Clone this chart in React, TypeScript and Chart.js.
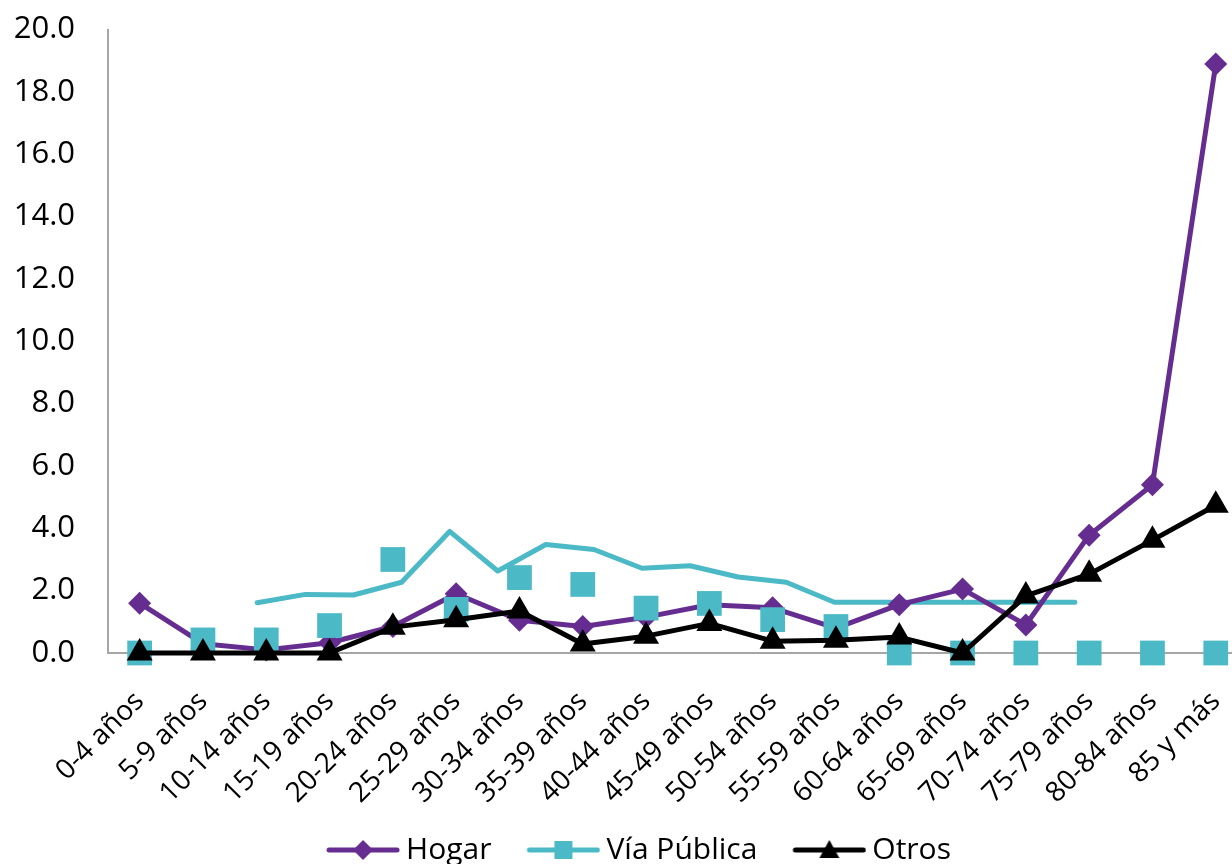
import React, { useEffect, useRef } from "react";
import { Chart, registerables } from "chart.js";

Chart.register(...registerables);

const categories = [
  "0-4 años", "5-9 años", "10-14 años", "15-19 años", "20-24 años", "25-29 años",
  "30-34 años", "35-39 años", "40-44 años", "45-49 años", "50-54 años", "55-59 años",
  "60-64 años", "65-69 años", "70-74 años", "75-79 años", "80-84 años", "85 y más",
];
const hogar = [1.6, 0.3, 0.1, 0.33, 0.85, 1.9, 1.05, 0.85, 1.15, 1.55, 1.45, 0.8, 1.55, 2.05, 0.9, 3.78, 5.4, 18.9];
const viaPublica = [0, 0.42, 0.42, 0.88, 3.0, 1.4, 2.42, 2.2, 1.44, 1.59, 1.07, 0.85, 0, 0, 0, 0, 0, 0];
const viaPublicaLinea = [1.61, 1.88, 1.86, 2.27, 3.9, 2.63, 3.48, 3.32, 2.72, 2.8, 2.44, 2.27, 1.63, 1.63, 1.63, 1.63, 1.63, 1.63];
const otros = [0, 0, 0, 0, 0.83, 1.07, 1.35, 0.29, 0.54, 0.95, 0.38, 0.41, 0.51, 0, 1.83, 2.53, 3.62, 4.74];
const yTicks = [0, 2, 4, 6, 8, 10, 12, 14, 16, 18, 20];
const legendNames = ["Hogar", "Vía Pública", "Otros"];

const PURPLE = "#662D91";
const CYAN = "#4BB9C6";
const BLACK = "#000000";
const AXIS = "#A6A6A6";

const LEGEND_BLANK = 14;

function legendImage(color: string, marker: "diamond" | "square" | "triangle") {
  const c = document.createElement("canvas");
  c.width = 74 + LEGEND_BLANK;
  c.height = 26;
  const ctx = c.getContext("2d")!;
  ctx.translate(LEGEND_BLANK, 0);
  ctx.strokeStyle = color;
  ctx.fillStyle = color;
  ctx.lineWidth = 5;
  ctx.lineCap = "round";
  ctx.beginPath();
  ctx.moveTo(3, 13);
  ctx.lineTo(71, 13);
  ctx.stroke();
  ctx.beginPath();
  if (marker === "diamond") {
    ctx.moveTo(37, 3);
    ctx.lineTo(47, 13);
    ctx.lineTo(37, 23);
    ctx.lineTo(27, 13);
  } else if (marker === "square") {
    ctx.rect(28, 4, 18, 18);
  } else {
    ctx.moveTo(37, 3);
    ctx.lineTo(47, 21);
    ctx.lineTo(27, 21);
  }
  ctx.closePath();
  ctx.fill();
  return c;
}

export default function App() {
  const ref = useRef<HTMLCanvasElement | null>(null);

  useEffect(() => {
    if (!ref.current) return;
    Chart.defaults.font.family = "'Open Sans', sans-serif";
    Chart.defaults.color = "#000";

    const imgs = [
      legendImage(PURPLE, "diamond"),
      legendImage(CYAN, "square"),
      legendImage(BLACK, "triangle"),
    ];
    const colors = [PURPLE, CYAN, BLACK];

    const trendStep = 48;
    const plotLeft = 108;
    const plotWidth = 63.18 * 18;
    const firstTrend = 257;
    const x2min = -(firstTrend - plotLeft) / trendStep;
    const x2max = x2min + plotWidth / trendStep;

    const chart = new Chart(ref.current, {
      type: "line",
      data: {
        labels: categories,
        datasets: [
          {
            label: legendNames[2],
            data: otros,
            borderColor: BLACK,
            backgroundColor: BLACK,
            borderWidth: 5,
            pointStyle: "triangle",
            pointRadius: 15,
            pointBorderWidth: 0,
            pointBackgroundColor: BLACK,
            borderJoinStyle: "round",
            order: 0,
            clip: false as any,
            xAxisID: "x",
          },
          {
            label: legendNames[1],
            data: viaPublica,
            showLine: false,
            borderColor: CYAN,
            backgroundColor: CYAN,
            pointStyle: "rect",
            pointRadius: 17.5,
            pointBorderWidth: 0,
            pointBackgroundColor: CYAN,
            order: 1,
            clip: false as any,
            xAxisID: "x",
          },
          {
            label: legendNames[0],
            data: hogar,
            borderColor: PURPLE,
            backgroundColor: PURPLE,
            borderWidth: 5,
            pointStyle: "rectRot",
            pointRadius: 11.5,
            pointBorderWidth: 0,
            pointBackgroundColor: PURPLE,
            borderJoinStyle: "round",
            order: 2,
            clip: false as any,
            xAxisID: "x",
          },
          {
            label: "trend",
            data: viaPublicaLinea.map((v, i) => ({ x: i, y: v })),
            borderColor: CYAN,
            backgroundColor: CYAN,
            borderWidth: 5,
            pointRadius: 0,
            borderJoinStyle: "round",
            borderCapStyle: "round",
            order: 3,
            clip: false as any,
            xAxisID: "x2",
          } as any,
        ],
      },
      options: {
        animation: false,
        responsive: true,
        maintainAspectRatio: false,
        layout: { padding: { top: 6, left: 0, right: 0, bottom: 0 } },
        plugins: {
          tooltip: { enabled: false },
          legend: {
            position: "bottom",
            labels: {
              usePointStyle: true,
              pointStyleWidth: 70,
              boxHeight: 26,
              padding: 30,
              color: "#000",
              font: { size: 30, family: "'Open Sans', sans-serif" },
              generateLabels: () =>
                legendNames.map((name, i) => ({
                  text: name,
                  pointStyle: imgs[i] as any,
                  fillStyle: colors[i],
                  strokeStyle: colors[i],
                  lineWidth: 0,
                  hidden: false,
                  datasetIndex: 2 - i,
                })),
            },
          },
        },
        scales: {
          x: {
            type: "category",
            offset: true,
            grid: { display: false, drawTicks: false },
            border: { display: true, color: AXIS, width: 2 },
            ticks: {
              autoSkip: false,
              maxRotation: 45,
              minRotation: 45,
              padding: 32,
              font: { size: 28 },
              color: "#000",
            },
            afterFit: (scale: any) => {
              scale.height = 152;
            },
          },
          x2: {
            type: "linear",
            display: false,
            min: x2min,
            max: x2max,
          },
          y: {
            min: 0,
            max: 20,
            grid: { display: false, drawTicks: false },
            border: { display: true, color: AXIS, width: 2 },
            afterBuildTicks: (scale: any) => {
              scale.ticks = yTicks.map((v) => ({ value: v }));
            },
            ticks: {
              padding: 33,
              font: { size: 31 },
              color: "#000",
              callback: (v: any) => Number(v).toFixed(1),
            },
            afterFit: (scale: any) => {
              scale.width = plotLeft;
            },
          },
        },
      },
    });
    return () => chart.destroy();
  }, []);

  return (
    <div
      style={{
        position: "absolute",
        left: 0,
        top: 0,
        width: 1232,
        height: 864,
        overflow: "hidden",
        background: "#fff",
      }}
    >
      <div style={{ position: "relative", top: -22, width: 1272, height: 897 }}>
        <canvas ref={ref} />
      </div>
    </div>
  );
}
